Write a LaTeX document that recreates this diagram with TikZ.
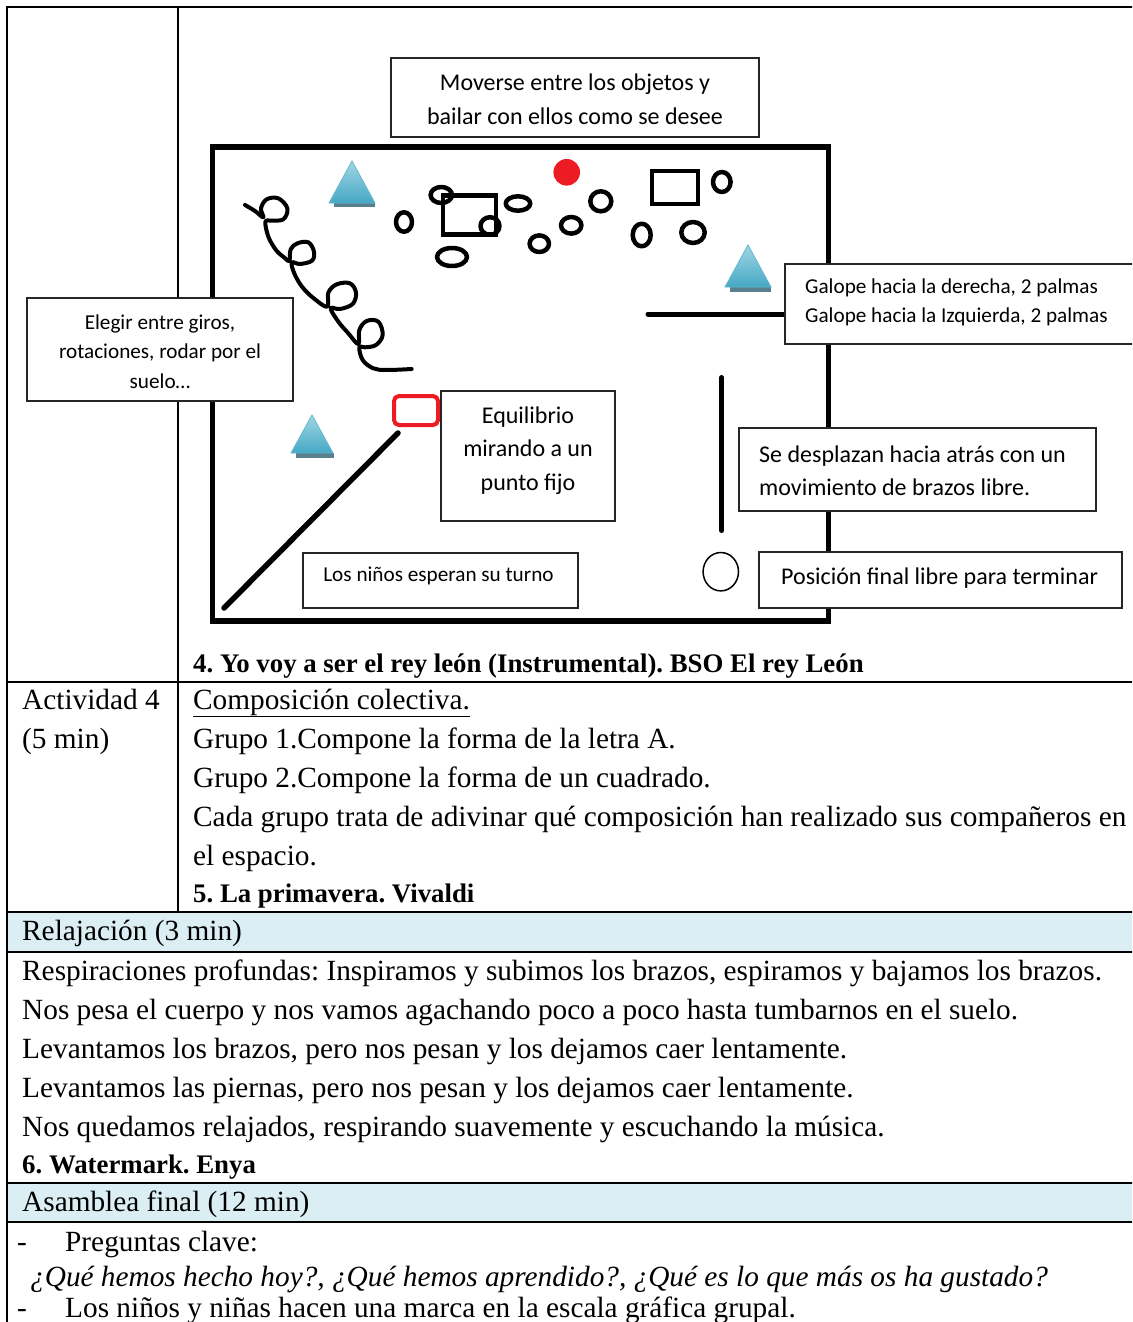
\documentclass[tikz,border=0pt]{standalone}
\usepackage{fontspec}
\setmainfont{Liberation Serif}
\newfontfamily\calfont{Carlito}
\definecolor{hdrblue}{RGB}{219,238,243}
\definecolor{triA}{RGB}{160,214,228}
\definecolor{triB}{RGB}{70,168,196}
\definecolor{triEdge}{RGB}{100,184,207}
\definecolor{triS}{RGB}{88,128,142}
\definecolor{redmark}{RGB}{237,28,36}
\begin{document}
\frenchspacing
\begin{tikzpicture}[x=1pt,y=-1pt,
  tbl/.style={line width=1.8pt,black},
  tx/.style={inner sep=0pt,anchor=base west,font=\fontsize{29.3}{39}\selectfont},
  txb/.style={inner sep=0pt,anchor=base west,font=\fontsize{26.8}{39}\selectfont\bfseries},
  boxs/.style={draw=black!85,line width=1.6pt,fill=white,inner sep=0pt},
  cbig/.style={inner sep=0pt,font=\calfont\fontsize{24}{33.5}\selectfont},
  csmall/.style={inner sep=0pt,font=\calfont\fontsize{21.2}{29.5}\selectfont},
  wall/.style={line width=5.5pt,line cap=round,black},
  ink/.style={line width=4.5pt,black,line cap=round,line join=round},
  tri/.style={top color=triA,bottom color=triB,draw=triEdge,line width=0.8pt},
  trishadow/.style={fill=triS}]
\clip (0,0) rectangle (1132,1322);
\fill[white] (0,0) rectangle (1132,1322);

% ---------- table ----------
\fill[hdrblue] (7,912) rectangle (1140,952);
\fill[hdrblue] (7,1183) rectangle (1140,1222);
\draw[tbl] (7,1340) -- (7,7) -- (1140,7);
\draw[tbl] (178,7) -- (178,912);
\draw[tbl] (7,682) -- (1140,682);
\draw[tbl] (7,912) -- (1140,912);
\draw[tbl] (7,952) -- (1140,952);
\draw[tbl] (7,1183) -- (1140,1183);
\draw[tbl] (7,1222) -- (1140,1222);

% ---------- diagram ----------
\draw[wall] (212.5,147) rectangle (828.5,621);

% triangles
\fill[trishadow] (334,202.5) -- (375,202.5) -- (375,207) -- (334,207) -- cycle;
\shade[tri] (352,161) -- (375,203) -- (329,203) -- cycle;
\fill[trishadow] (730,286.5) -- (771,286.5) -- (771,291.5) -- (730,291.5) -- cycle;
\shade[tri] (748,245) -- (771,287) -- (725,287) -- cycle;
\fill[trishadow] (296,452.5) -- (333.5,452.5) -- (333.5,458) -- (296,458) -- cycle;
\shade[tri] (312,415) -- (333,453) -- (291,453) -- cycle;

% red dot
\fill[redmark] (566.7,172.3) circle (13.3);

% rectangles
\draw[ink,line cap=butt,line join=miter] (443,195.5) rectangle (496,234.5);
\draw[ink,line cap=butt,line join=miter] (652,171) rectangle (698,204);

% ovals
\draw[ink] (404,222) ellipse (8 and 9.7);
\draw[ink] (441.3,195) ellipse (10.7 and 8);
\draw[ink] (490,226) ellipse (9.5 and 8.8);
\draw[ink] (452,257) ellipse (15 and 9);
\draw[ink] (518,203.5) ellipse (12.3 and 7.2);
\draw[ink] (539.3,243.7) ellipse (9.7 and 8.3);
\draw[ink] (571.2,225.3) ellipse (10.2 and 8.3);
\draw[ink] (600.8,201.3) ellipse (10.5 and 10);
\draw[ink] (641.7,235) ellipse (9 and 11.3);
\draw[ink] (693,232.5) ellipse (11.7 and 10.5);
\draw[ink] (721.8,182) ellipse (8.8 and 10);

% loop path
\begin{scope}[shift={(200,140)},scale=1/3]
\draw[ink,line width=4pt] plot[smooth,tension=0.6] coordinates {
 (135,195) (165,213) (190,232) (183,205) (200,178) (235,175) (262,205) (250,238) (212,242) (196,245)
 (205,290) (228,330) (252,352) (268,362) (272,328) (292,310) (325,307) (342,335) (336,362) (300,372) (275,368)
 (285,405) (310,445) (345,478) (382,500) (385,458) (410,433) (450,430) (468,458) (458,492) (420,507) (392,505)
 (415,545) (445,580) (475,612) (478,570) (500,543) (535,545) (548,585) (528,615) (495,622) (478,622)
 (488,660) (520,685) (560,690) (635,687)};
\end{scope}

% lines
\draw[wall,line width=5pt] (648,314) -- (790,314);
\draw[wall,line width=5pt] (721.7,377.5) -- (721.7,530.5);
\draw[wall] (224,608) -- (398,433);

% red rounded rect
\draw[redmark,line width=4pt,rounded corners=5pt] (394,396) rectangle (438,425);

% open circle
\draw[black,line width=1.5pt] (720.8,571.7) ellipse (17.7 and 19.2);

% boxes
\node[boxs,minimum width=368,minimum height=79] (bMov) at (575,97.5) {};
\node[cbig,align=center] (tMov) at (575,99.5) {Moverse entre los objetos y\\bailar con ellos como se desee};

\node[boxs,minimum width=266,minimum height=103] (bEle) at (160,349.5) {};
\node[csmall,align=center] (tEle) at (160,351.5) {Elegir entre giros,\\rotaciones, rodar por el\\suelo…};

\node[boxs,minimum width=375,minimum height=80] (bGal) at (972.5,304) {};
\node[csmall,align=left,anchor=west] (tGal) at (805,302.5) {Galope hacia la derecha, 2 palmas\\Galope hacia la Izquierda, 2 palmas};

\node[boxs,minimum width=174,minimum height=130] (bEqu) at (528,456) {};
\node[cbig,align=center] (tEqu) at (528,450.5) {Equilibrio\\mirando a un\\punto fijo};

\node[boxs,minimum width=275,minimum height=55] (bNin) at (440.5,580.5) {};
\node[csmall] (tNin) at (438.5,576) {Los niños esperan su turno};

\node[boxs,minimum width=357,minimum height=83] (bDes) at (917.5,469.5) {};
\node[cbig,align=left,anchor=west] (tDes) at (759,471) {Se desplazan hacia atrás con un\\movimiento de brazos libre.};

\node[boxs,minimum width=363,minimum height=56] (bPos) at (940.5,580) {};
\node[cbig,anchor=west] (tPos) at (781,578) {Posición final libre para terminar};

% ---------- table text ----------
\node[txb] (r1) at (193,672) {4. Yo voy a ser el rey león (Instrumental). BSO El rey León};
\node[tx] (a1) at (22,709) {Actividad 4};
\node[tx] (a2) at (22,748) {(5 min)};
\node[tx] (c1) at (193,709) {\underline{Composición colectiva.}};
\node[tx] (c2) at (193,748) {Grupo 1.Compone la forma de la letra A.};
\node[tx] (c3) at (193,787) {Grupo 2.Compone la forma de un cuadrado.};
\node[tx] (c4) at (193,826) {Cada grupo trata de adivinar qué composición han realizado sus compañeros en};
\node[tx] (c5) at (193,865) {el espacio.};
\node[txb] (c6) at (193,902) {5. La primavera. Vivaldi};
\node[tx] (h1) at (22,940) {Relajación (3 min)};
\node[tx] (l1) at (22,980) {Respiraciones profundas: Inspiramos y subimos los brazos, espiramos y bajamos los brazos.};
\node[tx] (l2) at (22,1019) {Nos pesa el cuerpo y nos vamos agachando poco a poco hasta tumbarnos en el suelo.};
\node[tx] (l3) at (22,1058) {Levantamos los brazos, pero nos pesan y los dejamos caer lentamente.};
\node[tx] (l4) at (22,1097) {Levantamos las piernas, pero nos pesan y los dejamos caer lentamente.};
\node[tx] (l5) at (22,1136) {Nos quedamos relajados, respirando suavemente y escuchando la música.};
\node[txb] (l6) at (22,1173) {6. Watermark. Enya};
\node[tx] (h2) at (22,1211) {Asamblea final (12 min)};
\node[tx] (d1) at (17,1251) {-};
\node[tx] (p1) at (65,1251) {Preguntas clave:};
\node[tx] (p2) at (30,1286) {\itshape ¿Qué hemos hecho hoy?, ¿Qué hemos aprendido?, ¿Qué es lo que más os ha gustado?};
\node[tx] (d2) at (17,1317) {-};
\node[tx] (p3) at (65,1317) {Los niños y niñas hacen una marca en la escala gráfica grupal.};
\end{tikzpicture}
\end{document}
